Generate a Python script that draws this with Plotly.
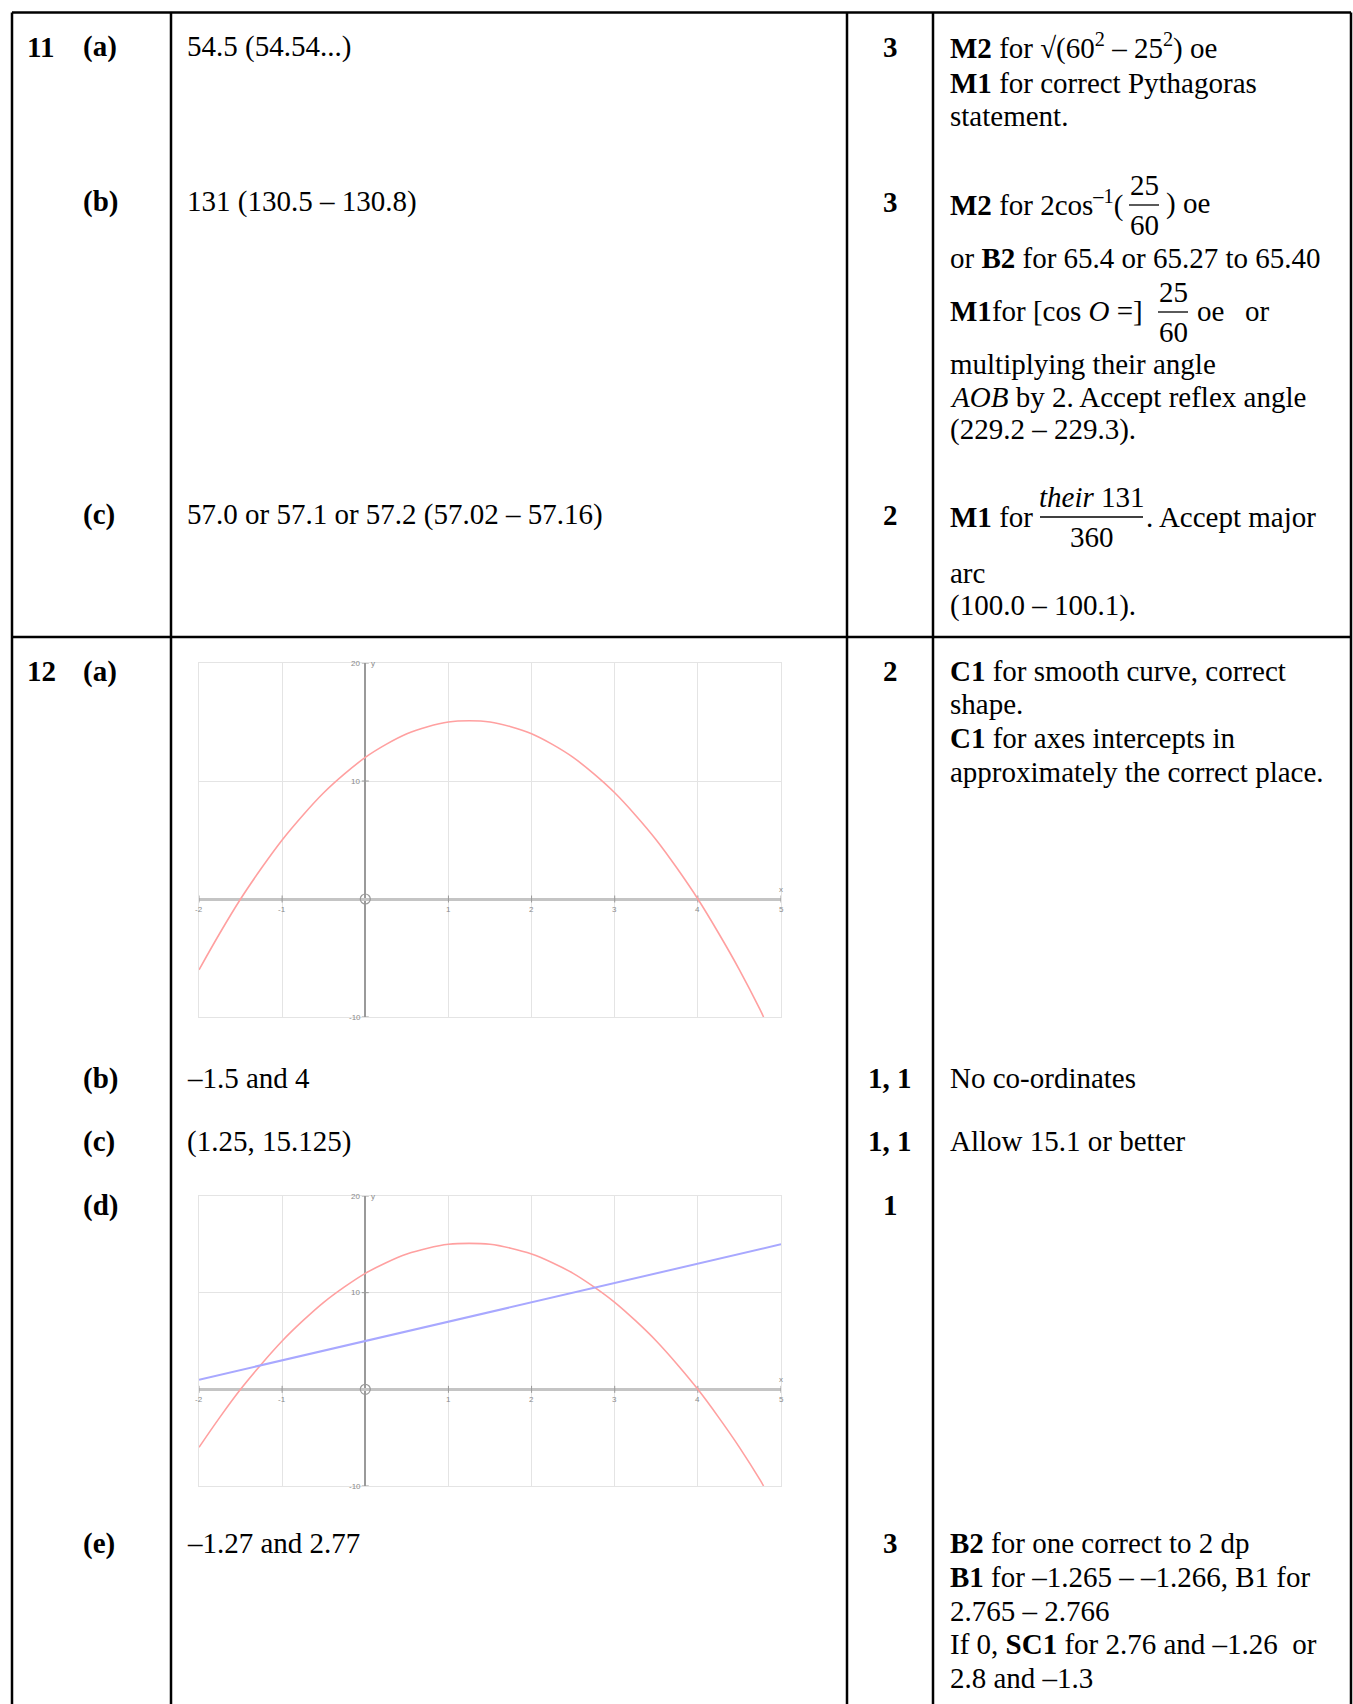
import plotly.graph_objects as go

W, H = 1353, 1704

# ---------------- data ----------------
parab_x = [-2, -1.75, -1.5, -1.25, -1, -0.75, -0.5, -0.25, 0, 0.25, 0.5, 0.75, 1, 1.25,
           1.5, 1.75, 2, 2.25, 2.5, 2.75, 3, 3.25, 3.5, 3.75, 4, 4.25, 4.5, 4.75, 4.79]
parab_y = [-6, -2.9, 0, 2.6, 5, 7.1, 9, 10.6, 12, 13.1, 14, 14.6, 15, 15.1,
           15, 14.6, 14, 13.1, 12, 10.6, 9, 7.1, 5, 2.6, 0, -2.9, -6, -9.4, -10]
line_x = [-2, 5]
line_y = [1, 15]
x_tick_vals = [-2, -1, 1, 2, 3, 4, 5]
x_tick_text = ["-2", "-1", "1", "2", "3", "4", "5"]
y_tick_vals = [20, 10, -10]
y_tick_text = ["20", "10", "-10"]
origin_x = [0]
origin_y = [0]
x_range = [-2, 5]
y_range = [-10, 20]

FONT = "Liberation Serif, Times New Roman, serif"


def px(x):
    return x / W


def py(y):
    return 1 - y / H


annotations = []
shapes = []


def txt(x, y, s, anchor="left", size=29):
    annotations.append(dict(x=px(x), y=py(y), xref="paper", yref="paper", text=s,
                            showarrow=False, xanchor=anchor, yanchor="middle", borderpad=0,
                            font=dict(family=FONT, size=size, color="black")))


def hline(y, x0, x1, w=2.5, color="black"):
    shapes.append(dict(type="line", xref="paper", yref="paper", x0=px(x0), x1=px(x1),
                       y0=py(y), y1=py(y), line=dict(color=color, width=w)))


def vline(x, y0, y1, w=2.5, color="black"):
    shapes.append(dict(type="line", xref="paper", yref="paper", x0=px(x), x1=px(x),
                       y0=py(y0), y1=py(y1), line=dict(color=color, width=w)))


def frac(cx, num, den, ybar, x0, x1, gap=20):
    txt(cx, ybar - gap, num, "center")
    txt(cx, ybar + gap, den, "center")
    hline(ybar, x0, x1, w=1.3)


# ---------------- table grid ----------------
TOP, RIGHT = 12.5, 1351
for xv in [12, 171, 847, 933, RIGHT]:
    vline(xv, TOP, H + 5)
hline(TOP, 12, RIGHT)
hline(637, 12, RIGHT)

# ---------------- row 11 ----------------
txt(26, 47, "<b>11</b>")
txt(82, 47, "<b>(a)</b>")
txt(186, 47, "54.5 (54.54...)")
txt(890, 47, "<b>3</b>", "center")
txt(949, 47, "<b>M2</b> for √(60<sup>2</sup> – 25<sup>2</sup>) oe")
txt(949, 82.6, "<b>M1</b> for correct Pythagoras")
txt(949, 116.3, "statement.")

txt(82, 202, "<b>(b)</b>")
txt(186, 202, "131 (130.5 – 130.8)")
txt(890, 202, "<b>3</b>", "center")
txt(949, 204, "<b>M2</b> for 2cos<sup>–1</sup>(")
frac(1144, "25", "60", 205, 1129, 1159)
txt(1165, 204, ") oe")
txt(949, 257.6, "or <b>B2</b> for 65.4 or 65.27 to 65.40")
txt(949, 311, "<b>M1</b>for [cos <i>O</i> =]")
frac(1173, "25", "60", 312, 1158, 1188)
txt(1196, 311, "oe")
txt(1244, 311, "or")
txt(949, 364, "multiplying their angle")
txt(949, 397, "<i>AOB</i> by 2. Accept reflex angle")
txt(949, 430, "(229.2 – 229.3).")

txt(82, 515, "<b>(c)</b>")
txt(186, 515, "57.0 or 57.1 or 57.2 (57.02 – 57.16)")
txt(890, 515, "<b>2</b>", "center")
txt(949, 517, "<b>M1</b> for")
frac(1092, "<i>their</i> 131", "360", 517, 1040, 1143)
txt(1145, 517, ". Accept major")
txt(949, 573, "arc")
txt(949, 605, "(100.0 – 100.1).")

# ---------------- row 12 ----------------
txt(26, 671, "<b>12</b>")
txt(82, 671, "<b>(a)</b>")
txt(890, 671, "<b>2</b>", "center")
txt(949, 671, "<b>C1</b> for smooth curve, correct")
txt(949, 704, "shape.")
txt(949, 738, "<b>C1</b> for axes intercepts in")
txt(949, 772, "approximately the correct place.")

txt(82, 1078, "<b>(b)</b>")
txt(186, 1078, "–1.5 and 4")
txt(890, 1078, "<b>1, 1</b>", "center")
txt(949, 1078, "No co-ordinates")

txt(82, 1141, "<b>(c)</b>")
txt(186, 1141, "(1.25, 15.125)")
txt(890, 1141, "<b>1, 1</b>", "center")
txt(949, 1141, "Allow 15.1 or better")

txt(82, 1205, "<b>(d)</b>")
txt(890, 1205, "<b>1</b>", "center")

txt(82, 1543, "<b>(e)</b>")
txt(186, 1543, "–1.27 and 2.77")
txt(890, 1543, "<b>3</b>", "center")
txt(949, 1543, "<b>B2</b> for one correct to 2 dp")
txt(949, 1577, "<b>B1</b> for –1.265 – –1.266, B1 for")
txt(949, 1611, "2.765 – 2.766")
txt(949, 1644, "If 0, <b>SC1</b> for 2.76 and –1.26\u00a0\u00a0or")
txt(949, 1678, "2.8 and –1.3")

# ---------------- graphs ----------------
fig = go.Figure()

GRAPHS = [("", (663, 1017)), ("2", (1196, 1486))]

PARAB_COLOR = "#ffa0a0"
LINE_COLOR = "#a8a8ff"
AXIS_GREY = "#9a9a9a"

for suffix, (gtop, gbot) in GRAPHS:
    xa, ya = "x" + suffix, "y" + suffix
    fig.add_trace(go.Scatter(x=x_tick_vals, y=[0] * len(x_tick_vals), xaxis=xa, yaxis=ya,
                             mode="markers", marker=dict(symbol="line-ns", size=5,
                                                         color=AXIS_GREY,
                                                         line=dict(color=AXIS_GREY, width=1)),
                             hoverinfo="skip", showlegend=False))
    fig.add_trace(go.Scatter(x=[0] * len(y_tick_vals), y=y_tick_vals, xaxis=xa, yaxis=ya,
                             mode="markers", marker=dict(symbol="line-ew", size=5,
                                                         color=AXIS_GREY,
                                                         line=dict(color=AXIS_GREY, width=1)),
                             hoverinfo="skip", showlegend=False))
    fig.add_trace(go.Scatter(x=origin_x, y=origin_y, xaxis=xa, yaxis=ya, mode="markers",
                             marker=dict(symbol="circle-open", size=10, color=AXIS_GREY,
                                         line=dict(color=AXIS_GREY, width=1.2)),
                             hoverinfo="skip", showlegend=False))
    fig.add_trace(go.Scatter(x=parab_x, y=parab_y, xaxis=xa, yaxis=ya, mode="lines",
                             line=dict(color=PARAB_COLOR, width=1.6, shape="spline",
                                       smoothing=1.0),
                             hoverinfo="skip", showlegend=False))
    if suffix == "2":
        fig.add_trace(go.Scatter(x=line_x, y=line_y, xaxis=xa, yaxis=ya, mode="lines",
                                 line=dict(color=LINE_COLOR, width=2),
                                 hoverinfo="skip", showlegend=False))

    common = dict(showgrid=True, gridcolor="#e4e4e4", gridwidth=1, showline=True,
                  mirror=True, linecolor="#e4e4e4", linewidth=1, showticklabels=False,
                  ticks="", zeroline=True)
    fig.update_layout(**{
        "xaxis" + suffix: dict(domain=[px(199), px(781)], range=x_range, dtick=1, tick0=0,
                               zerolinecolor=AXIS_GREY, zerolinewidth=1.6,
                               anchor=ya, **common),
        "yaxis" + suffix: dict(domain=[py(gbot), py(gtop)], range=y_range, dtick=10, tick0=0,
                               zerolinecolor="#c4c4c4", zerolinewidth=3,
                               anchor=xa, **common),
    })

    small = dict(family="Liberation Sans, Arial, sans-serif", size=8, color="#8a8a8a")
    for v, t in zip(x_tick_vals, x_tick_text):
        annotations.append(dict(x=v, y=0, xref=xa, yref=ya, text=t, showarrow=False,
                                yshift=-10, font=small))
    for v, t in zip(y_tick_vals, y_tick_text):
        annotations.append(dict(x=0, y=v, xref=xa, yref=ya, text=t, showarrow=False,
                                xshift=-10, font=small))
    annotations.append(dict(x=0, y=y_range[1], xref=xa, yref=ya, text="y", showarrow=False,
                            xshift=8, font=small))
    annotations.append(dict(x=x_range[1], y=0, xref=xa, yref=ya, text="x", showarrow=False,
                            yshift=10, font=small))

fig.update_layout(width=W, height=H, margin=dict(l=0, r=0, t=0, b=0),
                  paper_bgcolor="white", plot_bgcolor="white", showlegend=False,
                  annotations=annotations, shapes=shapes)

fig.write_html("out.html", config={"displayModeBar": False},
               post_script="document.body.style.margin='0px';document.body.style.overflow='hidden';")
